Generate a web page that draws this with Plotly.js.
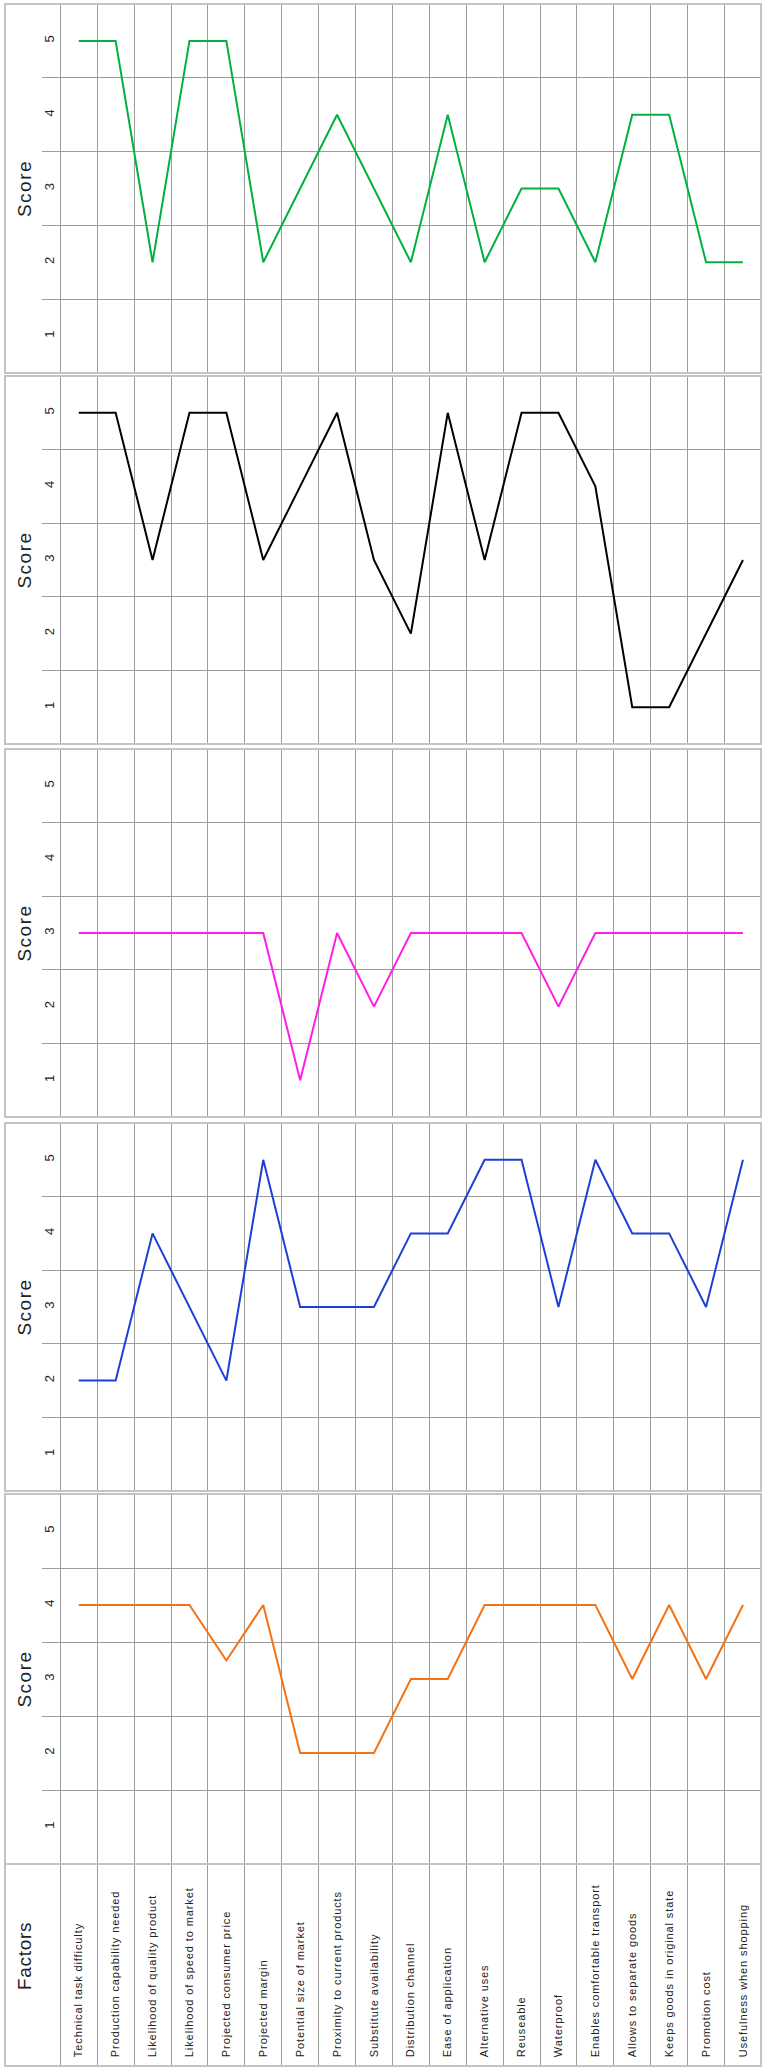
<!DOCTYPE html>
<html><head><meta charset="utf-8">
<script src="https://cdn.plot.ly/plotly-3.0.1.min.js"></script>
<style>
html,body{margin:0;padding:0;background:#fff;}
#chart{width:762px;height:2069px;}
.xtick text{letter-spacing:0.9px;}
text[class$="title"]{letter-spacing:1.5px;}
.annotation-text{letter-spacing:0.7px;}
</style></head>
<body><div id="chart"></div>
<script>
// ---- data ----
const factors = [
  "Technical task difficulty",
  "Production capability needed",
  "Likelihood of quality product",
  "Likelihood of speed to market",
  "Projected consumer price",
  "Projected margin",
  "Potential size of market",
  "Proximity to current products",
  "Substitute availability",
  "Distribution channel",
  "Ease of application",
  "Alternative uses",
  "Reuseable",
  "Waterproof",
  "Enables comfortable transport",
  "Allows to separate goods",
  "Keeps goods in original state",
  "Promotion cost",
  "Usefulness when shopping"
];
const greenScores   = [5,5,2,5,5,2,3,4,3,2,4,2,3,3,2,4,4,2,2];
const blackScores   = [5,5,3,5,5,3,4,5,3,2,5,3,5,5,4,1,1,2,3];
const magentaScores = [3,3,3,3,3,3,1,3,2,3,3,3,3,2,3,3,3,3,3];
const blueScores    = [2,2,4,3,2,5,3,3,3,4,4,5,5,3,5,4,4,3,5];
const orangeScores  = [4,4,4,4,3.25,4,2,2,2,3,3,4,4,4,4,3,4,3,4];
const scoreTicks = [1,2,3,4,5];
const halfGrid = [1.5,2.5,3.5,4.5];
const axisTitleScore = "Score";
const axisTitleFactors = "Factors";

// ---- layout helpers ----
const W = 762, H = 2069;
const px = v => v / W;
const py = v => 1 - v / H;
const panels = [[4,373],[376,744],[749,1117],[1123,1491],[1494,1864]];
const factorsBox = [1864, 2066];
const series = [greenScores, blackScores, magentaScores, blueScores, orangeScores];
const colors = ['#00b140', '#000000', '#ff1ee6', '#1f3fd4', '#f47216'];
const gridColor = '#9c9c9c';
const borderColor = '#c4c4c4';
const textColor = '#222222';
const fontFam = '"Liberation Sans", Arial, Helvetica, sans-serif';

const traces = series.map((s, i) => ({
  type: 'scatter', mode: 'lines',
  x: factors, y: s,
  xaxis: 'x', yaxis: i === 0 ? 'y' : 'y' + (i + 1),
  line: {color: colors[i], width: 2},
  hoverinfo: 'skip', showlegend: false
}));
traces.push({type: 'scatter', mode: 'lines', x: [], y: [], xaxis: 'x', yaxis: 'y6', showlegend: false, hoverinfo: 'skip'});

const layout = {
  width: W, height: H,
  margin: {l: 0, r: 0, t: 0, b: 0, pad: 0},
  paper_bgcolor: '#ffffff', plot_bgcolor: '#ffffff',
  showlegend: false,
  font: {family: fontFam, color: textColor},
  xaxis: {
    type: 'category', categoryorder: 'array', categoryarray: factors,
    range: [-0.996, 18.5], domain: [px(42), px(761.4)],
    anchor: 'y6', side: 'bottom', tickson: 'boundaries',
    showgrid: true, gridcolor: gridColor, gridwidth: 1,
    ticks: '', ticklabelposition: 'inside', tickangle: -90,
    ticklabelstandoff: 2,
    tickfont: {size: 11, color: textColor, family: fontFam},
    showline: false, zeroline: false, fixedrange: true, automargin: false
  },
  shapes: [],
  annotations: [{
    text: axisTitleFactors, xref: 'paper', yref: 'paper',
    x: px(24), y: py(1956), xanchor: 'center', yanchor: 'middle',
    textangle: -90, showarrow: false,
    font: {size: 19, color: textColor, family: fontFam}
  }]
};

panels.forEach((p, i) => {
  const key = i === 0 ? 'yaxis' : 'yaxis' + (i + 1);
  layout[key] = {
    domain: [py(p[1]), py(p[0])], range: [0.5, 5.5],
    anchor: 'free', position: px(34),
    tickmode: 'array', tickvals: scoreTicks, ticktext: scoreTicks.map(String),
    tickangle: -90, ticklabelposition: 'inside', ticks: '',
    tickfont: {size: 13, color: textColor, family: fontFam},
    showgrid: false, zeroline: false, showline: false,
    minor: {tickmode: 'array', tickvals: halfGrid, showgrid: true, gridcolor: gridColor, gridwidth: 1, ticks: ''},
    title: {text: axisTitleScore, font: {size: 19, color: textColor, family: fontFam}, standoff: 3},
    fixedrange: true, automargin: false
  };
  layout.shapes.push({type: 'rect', xref: 'paper', yref: 'paper', layer: 'above',
    x0: px(5), x1: px(761), y0: py(p[1]), y1: py(p[0]),
    line: {color: borderColor, width: 2}});
});

layout.yaxis6 = {
  domain: [py(factorsBox[1]), py(factorsBox[0])], range: [0, 1], anchor: 'x',
  showticklabels: false, ticks: '', showgrid: false, zeroline: false, showline: false,
  fixedrange: true, automargin: false
};
layout.shapes.push({type: 'rect', xref: 'paper', yref: 'paper', layer: 'above',
  x0: px(5), x1: px(761), y0: py(factorsBox[1]), y1: py(factorsBox[0]),
  line: {color: borderColor, width: 2}});

Plotly.newPlot('chart', traces, layout, {displayModeBar: false, staticPlot: true});
</script>
</body></html>
